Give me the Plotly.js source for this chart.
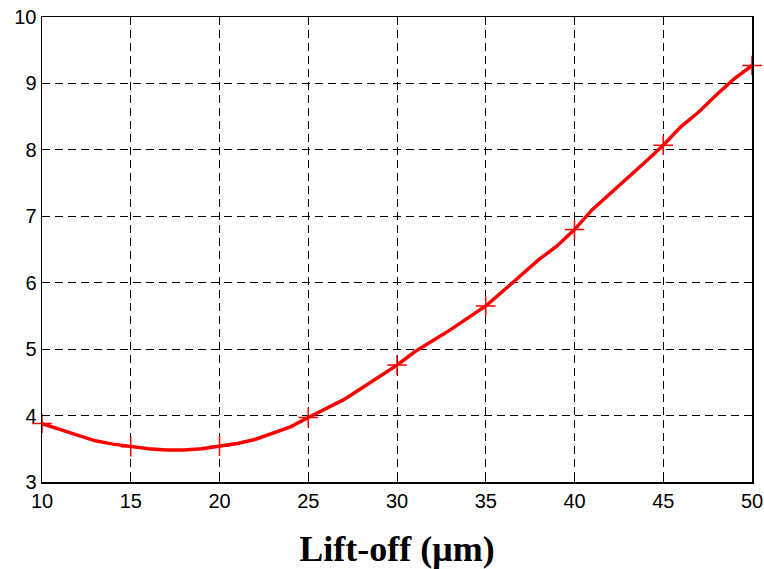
<!DOCTYPE html>
<html>
<head>
<meta charset="utf-8">
<script src="https://cdn.plot.ly/plotly-3.0.1.min.js"></script>
<style>html,body{margin:0;padding:0;background:#fff;}#chart{width:764px;height:569px;}</style>
</head>
<body>
<div id="chart"></div>
<script>
var liftOff = [10,11,12,13,14,15,16,17,18,19,20,21,22,23,24,25,26,27,28,29,30,31,32,33,34,35,36,37,38,39,40,41,42,43,44,45,46,47,48,49,50];
var values = [3.88,3.79,3.71,3.62,3.57,3.53,3.50,3.48,3.48,3.50,3.54,3.58,3.64,3.73,3.83,3.97,4.10,4.24,4.41,4.58,4.76,4.96,5.12,5.29,5.47,5.65,5.88,6.12,6.35,6.55,6.80,7.10,7.34,7.57,7.82,8.07,8.35,8.57,8.83,9.07,9.27];
var xTicks = [10,15,20,25,30,35,40,45,50];
var yTicks = [3,4,5,6,7,8,9,10];
var xTitle = 'Lift-off (\u03bcm)';

var mx = [], my = [];
for (var i = 0; i < liftOff.length; i++) {
  if (xTicks.indexOf(liftOff[i]) >= 0) { mx.push(liftOff[i]); my.push(values[i]); }
}

var traces = [
  {x: liftOff, y: values, mode: 'lines', line: {color: '#ff0000', width: 3.5}, hoverinfo: 'skip'},
  {x: mx, y: my, mode: 'markers', marker: {symbol: 'cross-thin-open', size: 14, color: '#ff0000', line: {color: '#ff0000', width: 1.5}}, hoverinfo: 'skip', cliponaxis: false}
];

var axisCommon = {
  showline: true, mirror: 'ticks', linecolor: '#000', linewidth: 1.5,
  showgrid: true, gridcolor: '#000', gridwidth: 1, griddash: '8px,5px',
  zeroline: false, ticks: 'inside', ticklen: 5, tickcolor: '#000',
  tickfont: {family: 'Liberation Sans, Arial, sans-serif', size: 20, color: '#000'}
};

var layout = {
  width: 764, height: 569,
  margin: {l: 42, r: 12, t: 17, b: 87},
  paper_bgcolor: '#fff', plot_bgcolor: '#fff',
  showlegend: false,
  xaxis: Object.assign({}, axisCommon, {
    range: [10, 50], tickmode: 'array', tickvals: xTicks, ticktext: xTicks.map(String),
    title: {text: xTitle, font: {family: 'Liberation Serif, Times New Roman, serif', size: 36, color: '#000', weight: 'bold'}, standoff: 25}
  }),
  yaxis: Object.assign({}, axisCommon, {
    range: [3, 10], tickmode: 'array', tickvals: yTicks, ticktext: yTicks.map(String)
  })
};

Plotly.newPlot('chart', traces, layout, {displayModeBar: false, staticPlot: true});
</script>
</body>
</html>
